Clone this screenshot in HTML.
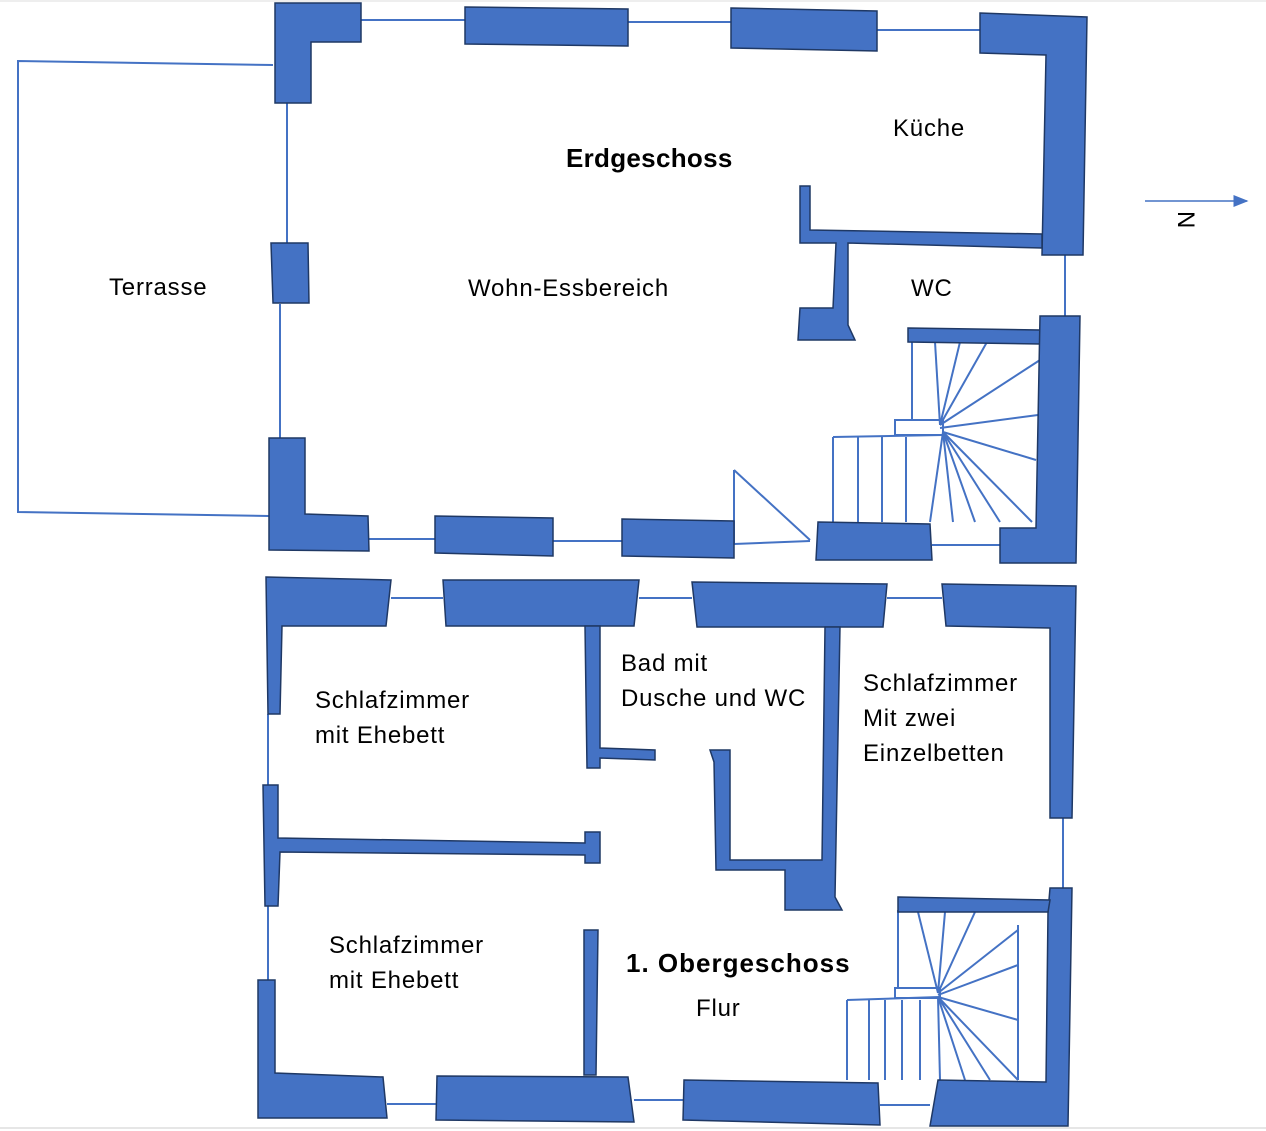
<!DOCTYPE html>
<html><head><meta charset="utf-8"><style>
html,body{margin:0;padding:0;background:#fff;}
svg{display:block}
text{font-family:"Liberation Sans",sans-serif;font-size:24px;letter-spacing:0.8px;fill:#000}
.w{fill:#4472C4;stroke:#1F3864;stroke-width:1.5}
.l{stroke:#4472C4;stroke-width:2;fill:none}
</style></head><body>
<svg width="1266" height="1131" viewBox="0 0 1266 1131" xmlns="http://www.w3.org/2000/svg">
<defs><marker id="ar" markerWidth="10" markerHeight="10" refX="9" refY="5" orient="auto"><path d="M0,1 L10,5 L0,9 z" fill="#4472C4"/></marker></defs>
<line x1="0" y1="1128" x2="1266" y2="1128" stroke="#ccc"/>
<line x1="0" y1="1" x2="1266" y2="1" stroke="#ddd"/>
<polyline class="l" points="273,65 18,61 18,512 269,516"/>
<g class="l">
<line x1="361" y1="20" x2="465" y2="20"/><line x1="628" y1="22" x2="731" y2="22"/><line x1="877" y1="30" x2="980" y2="30"/>
<line x1="1065" y1="255" x2="1065" y2="318"/><line x1="932" y1="545" x2="1000" y2="545"/>
<line x1="734" y1="470" x2="810" y2="540"/><line x1="734" y1="470" x2="734" y2="545"/><line x1="734" y1="544" x2="810" y2="541"/>
<line x1="553" y1="541" x2="622" y2="541"/><line x1="369" y1="539" x2="435" y2="539"/>
<line x1="280" y1="304" x2="280" y2="438"/><line x1="287" y1="103" x2="287" y2="243"/>
<line x1="912" y1="342" x2="912" y2="420"/><rect x="895" y="420" width="48" height="15"/>
<line x1="940" y1="425" x2="935" y2="342"/><line x1="940" y1="425" x2="960" y2="342"/><line x1="940" y1="425" x2="987" y2="342"/>
<line x1="940" y1="425" x2="1040" y2="360"/><line x1="940" y1="428" x2="1038" y2="415"/>
<line x1="833" y1="437" x2="943" y2="435"/><line x1="833" y1="437" x2="833" y2="522"/>
<line x1="858" y1="437" x2="858" y2="522"/><line x1="882" y1="437" x2="882" y2="522"/><line x1="906" y1="437" x2="906" y2="522"/>
<line x1="943" y1="432" x2="930" y2="522"/><line x1="943" y1="432" x2="953" y2="522"/><line x1="943" y1="432" x2="975" y2="522"/>
<line x1="943" y1="432" x2="1000" y2="522"/><line x1="943" y1="432" x2="1032" y2="522"/><line x1="943" y1="432" x2="1036" y2="460"/>
</g>
<g class="w">
<polygon points="275,3 361,3 361,42 311,42 311,103 275,103"/>
<polygon points="465,7 628,9 628,46 465,44"/>
<polygon points="731,8 877,11 877,51 731,48"/>
<polygon points="980,13 1087,17 1083,255 1042,255 1046,55 980,53"/>
<polygon points="800,186 810,186 810,230 1042,234 1042,248 848,243 848,325 855,340 798,340 800,308 833,308 836,243 800,243"/>
<polygon points="908,328 1040,330 1040,344 908,342"/>
<polygon points="1040,316 1080,316 1076,563 1000,563 1000,528 1036,528"/>
<polygon points="818,522 930,524 932,560 816,560"/>
<polygon points="622,519 734,521 734,558 622,556"/>
<polygon points="435,516 553,518 553,556 435,553"/>
<polygon points="269,438 305,438 305,514 368,516 369,551 269,550"/>
<polygon points="271,243 308,243 309,303 273,303"/>
</g>
<g class="l">
<line x1="391" y1="598" x2="443" y2="598"/><line x1="639" y1="598" x2="692" y2="598"/><line x1="887" y1="598" x2="942" y2="598"/>
<line x1="1063" y1="818" x2="1063" y2="888"/><line x1="268" y1="714" x2="268" y2="785"/><line x1="268" y1="906" x2="268" y2="980"/>
<line x1="387" y1="1104" x2="437" y2="1104"/><line x1="634" y1="1100" x2="684" y2="1100"/><line x1="880" y1="1105" x2="930" y2="1105"/>
<line x1="898" y1="910" x2="898" y2="988"/><rect x="895" y="988" width="45" height="10"/>
<line x1="847" y1="1000" x2="940" y2="997"/>
<line x1="847" y1="1000" x2="847" y2="1080"/><line x1="869" y1="1000" x2="869" y2="1080"/><line x1="885" y1="1000" x2="885" y2="1080"/>
<line x1="902" y1="1000" x2="902" y2="1080"/><line x1="920" y1="1000" x2="920" y2="1080"/>
<line x1="1018" y1="925" x2="1018" y2="1080"/>
<line x1="938" y1="993" x2="918" y2="912"/><line x1="938" y1="993" x2="945" y2="912"/><line x1="938" y1="993" x2="975" y2="912"/>
<line x1="938" y1="993" x2="1018" y2="930"/><line x1="938" y1="995" x2="1018" y2="965"/><line x1="938" y1="997" x2="1018" y2="1020"/>
<line x1="938" y1="997" x2="1018" y2="1080"/><line x1="938" y1="997" x2="990" y2="1080"/><line x1="938" y1="997" x2="965" y2="1080"/>
<line x1="938" y1="997" x2="940" y2="1080"/>
</g>
<g class="w">
<polygon points="266,577 391,580 386,626 282,626 280,714 268,714"/>
<polygon points="443,580 639,580 634,626 446,626"/>
<polygon points="692,582 887,584 883,627 697,627"/>
<polygon points="942,584 1076,586 1072,818 1050,818 1050,628 946,626"/>
<polygon points="1050,888 1072,888 1068,1126 930,1126 938,1080 1046,1082 1048,912"/>
<polygon points="898,897 1050,900 1048,912 898,912"/>
<polygon points="585,626 600,626 600,748 655,750 655,760 600,758 600,768 587,768"/>
<polygon points="825,627 840,627 835,897 842,910 785,910 785,870 716,870 714,762 710,750 730,750 730,860 822,860"/>
<polygon points="263,785 278,785 278,838 585,843 585,832 600,832 600,863 585,863 585,855 280,852 278,906 265,906"/>
<polygon points="258,980 275,980 275,1073 383,1077 387,1118 258,1118"/>
<polygon points="584,930 598,930 596,1075 584,1075"/>
<polygon points="437,1076 628,1077 634,1122 436,1120"/>
<polygon points="684,1080 878,1083 880,1125 683,1120"/>
</g>
<line x1="1145" y1="201" x2="1247" y2="201" stroke="#4472C4" stroke-width="1.5" marker-end="url(#ar)"/>
<text x="0" y="0" transform="translate(1178,220) rotate(90)" text-anchor="middle" style="font-size:24px">N</text>
<text x="566" y="167" style="font-weight:bold;font-size:26px;letter-spacing:0.3px">Erdgeschoss</text>
<text x="893" y="136">Küche</text>
<text x="109" y="295">Terrasse</text>
<text x="468" y="296">Wohn-Essbereich</text>
<text x="911" y="296">WC</text>
<text x="621" y="671">Bad mit</text>
<text x="621" y="706">Dusche und WC</text>
<text x="315" y="708">Schlafzimmer</text>
<text x="315" y="743">mit Ehebett</text>
<text x="863" y="691">Schlafzimmer</text>
<text x="863" y="726">Mit zwei</text>
<text x="863" y="761">Einzelbetten</text>
<text x="329" y="953">Schlafzimmer</text>
<text x="329" y="988">mit Ehebett</text>
<text x="626" y="972" style="font-weight:bold;font-size:26px;letter-spacing:1px">1. Obergeschoss</text>
<text x="696" y="1016">Flur</text>
</svg>
</body></html>
